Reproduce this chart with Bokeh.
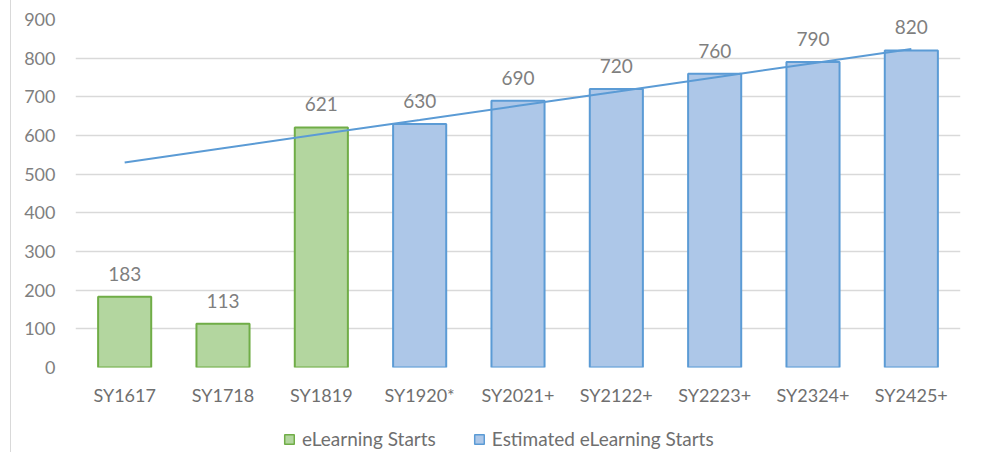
from bokeh.plotting import figure
from bokeh.models import ColumnDataSource, LabelSet, Legend, FactorRange
from bokeh.layouts import column
from bokeh.core.properties import value
from bokeh.embed import file_html
from bokeh.resources import INLINE

categories = ["SY1617", "SY1718", "SY1819", "SY1920*", "SY2021+", "SY2122+", "SY2223+", "SY2324+", "SY2425+"]
actual_cats = ["SY1617", "SY1718", "SY1819"]
actual_vals = [183, 113, 621]
est_cats = ["SY1920*", "SY2021+", "SY2122+", "SY2223+", "SY2324+", "SY2425+"]
est_vals = [630, 690, 720, 760, 790, 820]
trend_vals = [530, 567, 604, 640, 677, 713, 750, 787, 824]
y_ticks = [0, 100, 200, 300, 400, 500, 600, 700, 800, 900]
legend_labels = ["eLearning Starts", "Estimated eLearning Starts"]

FONT = "Lato"
GREEN_FILL, GREEN_LINE = "#b3d69f", "#70ad47"
BLUE_FILL, BLUE_LINE = "#adc7e8", "#5b9bd5"

W = 971  # total width minus left offset/border
p = figure(x_range=FactorRange(*categories, range_padding=0), y_range=(0, 900),
           width=W, height=426, output_backend="svg", toolbar_location=None,
           min_border_left=64, min_border_right=22, min_border_top=19, min_border_bottom=59)

src_a = ColumnDataSource(dict(x=actual_cats, y=actual_vals, lbl=[str(v) for v in actual_vals]))
src_e = ColumnDataSource(dict(x=est_cats, y=est_vals, lbl=[str(v) for v in est_vals]))

p.vbar(x="x", top="y", width=0.54, source=src_a, fill_color=GREEN_FILL,
       line_color=GREEN_LINE, line_width=2)
p.vbar(x="x", top="y", width=0.54, source=src_e, fill_color=BLUE_FILL,
       line_color=BLUE_LINE, line_width=2)

p.line(x=categories, y=trend_vals, line_color=BLUE_LINE, line_width=2)

for src in (src_a, src_e):
    p.add_layout(LabelSet(x="x", y="y", text="lbl", source=src, y_offset=16,
                          text_align="center", text_baseline="bottom",
                          text_font=value(FONT), text_font_size="19px", text_color="#7f7f7f"))

p.yaxis.ticker = y_ticks
p.yaxis.axis_line_color = None
p.yaxis.major_tick_line_color = None
p.yaxis.minor_tick_line_color = None
p.yaxis.major_label_text_font = FONT
p.yaxis.major_label_text_font_size = "18px"
p.yaxis.major_label_text_color = "#7f7f7f"
p.yaxis.major_label_standoff = 14

p.xaxis.axis_line_color = None
p.xaxis.major_tick_line_color = None
p.xaxis.minor_tick_line_color = None
p.xaxis.major_label_text_font = FONT
p.xaxis.major_label_text_font_size = "18px"
p.xaxis.major_label_text_color = "#6f6f6f"
p.xaxis.major_label_standoff = 10

p.xgrid.grid_line_color = None
p.ygrid.grid_line_color = "#d9d9d9"
p.ygrid.grid_line_width = 1.5
p.outline_line_color = None

# legend strip (swatch renderers hold a single NaN so nothing is drawn in the strip itself)
lg = figure(x_range=(0, 1), y_range=(0, 1), width=W, height=26, output_backend="svg",
            toolbar_location=None, min_border=0)
lg.axis.visible = False
lg.grid.visible = False
lg.outline_line_color = None
nan = float("nan")
swatch = ColumnDataSource(dict(l=[nan], r=[nan], t=[nan], b=[nan]))
ra = lg.quad(left="l", right="r", top="t", bottom="b", source=swatch,
             fill_color=GREEN_FILL, line_color=GREEN_LINE, line_width=1.5)
re_ = lg.quad(left="l", right="r", top="t", bottom="b", source=swatch,
              fill_color=BLUE_FILL, line_color=BLUE_LINE, line_width=1.5)
legend = Legend(items=[(legend_labels[0], [ra]), (legend_labels[1], [re_])],
                orientation="horizontal", location=(208, 2),
                label_text_font=FONT, label_text_font_size="19px", label_text_color="#6f6f6f",
                glyph_width=12, glyph_height=12, spacing=37, padding=0, margin=0,
                label_standoff=7, border_line_color=None, background_fill_alpha=0)
lg.add_layout(legend)

layout = column(p, lg, spacing=0,
                styles={"margin-left": "10px", "border-left": "1px solid #d9d9d9"})

open("out.html", "w").write(file_html(layout, INLINE))
